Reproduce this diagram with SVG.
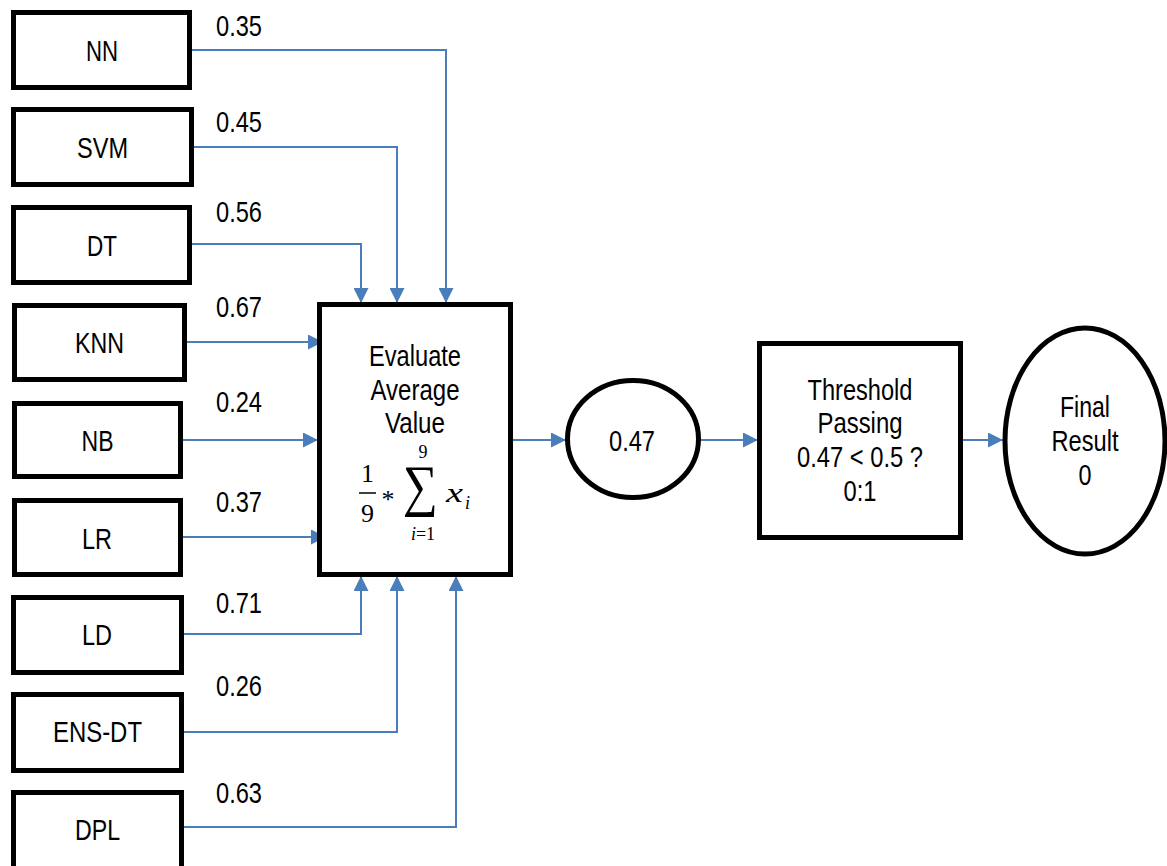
<svg xmlns="http://www.w3.org/2000/svg" width="1167" height="866" viewBox="0 0 1167 866">
<style>
.box{fill:#fff;stroke:#000;stroke-width:5}
.t{font-family:"Liberation Sans",Arial,sans-serif;font-size:29px;fill:#000}
.c{text-anchor:middle}
.m{font-family:"Liberation Serif","Times New Roman",serif;fill:#000}
.ln{fill:none;stroke:#4A7EBB;stroke-width:2}
</style>
<defs>
<marker id="ah" markerUnits="userSpaceOnUse" markerWidth="15" markerHeight="15" refX="15" refY="7.5" orient="auto">
<path d="M0,0 L15,7.5 L0,15 Z" fill="#4A7EBB"/>
</marker>
</defs>
<rect width="1167" height="866" fill="#fff"/>
<g id="connectors">
<path class="ln" d="M190,50 H446 V303" marker-end="url(#ah)"/>
<path class="ln" d="M192,147 H397 V303" marker-end="url(#ah)"/>
<path class="ln" d="M190,244 H361 V303" marker-end="url(#ah)"/>
<path class="ln" d="M187,342 H323" marker-end="url(#ah)"/>
<path class="ln" d="M183,440 H318" marker-end="url(#ah)"/>
<path class="ln" d="M183,537 H326" marker-end="url(#ah)"/>
<path class="ln" d="M184,634 H361 V576" marker-end="url(#ah)"/>
<path class="ln" d="M184,732 H397 V576" marker-end="url(#ah)"/>
<path class="ln" d="M184,827 H456 V576" marker-end="url(#ah)"/>
<path class="ln" d="M513,440 H566" marker-end="url(#ah)"/>
<path class="ln" d="M701,440 H758" marker-end="url(#ah)"/>
<path class="ln" d="M963,440 H1003" marker-end="url(#ah)"/>
<text class="t" x="216" y="36" textLength="46" lengthAdjust="spacingAndGlyphs">0.35</text>
<text class="t" x="216" y="132" textLength="46" lengthAdjust="spacingAndGlyphs">0.45</text>
<text class="t" x="216" y="222" textLength="46" lengthAdjust="spacingAndGlyphs">0.56</text>
<text class="t" x="216" y="317" textLength="46" lengthAdjust="spacingAndGlyphs">0.67</text>
<text class="t" x="216" y="412" textLength="46" lengthAdjust="spacingAndGlyphs">0.24</text>
<text class="t" x="216" y="512" textLength="46" lengthAdjust="spacingAndGlyphs">0.37</text>
<text class="t" x="216" y="613" textLength="46" lengthAdjust="spacingAndGlyphs">0.71</text>
<text class="t" x="216" y="696" textLength="46" lengthAdjust="spacingAndGlyphs">0.26</text>
<text class="t" x="216" y="803" textLength="46" lengthAdjust="spacingAndGlyphs">0.63</text>
</g>
<g id="nn"><rect class="box" x="13.5" y="12.5" width="176" height="75"/><text class="t c" x="102" y="61" textLength="32" lengthAdjust="spacingAndGlyphs">NN</text></g>
<g id="svm"><rect class="box" x="13.5" y="109.5" width="178" height="75"/><text class="t c" x="102.5" y="158" textLength="51" lengthAdjust="spacingAndGlyphs">SVM</text></g>
<g id="dt"><rect class="box" x="13.5" y="207.5" width="176" height="75"/><text class="t c" x="102" y="256" textLength="30" lengthAdjust="spacingAndGlyphs">DT</text></g>
<g id="knn"><rect class="box" x="14.5" y="305.5" width="170" height="74"/><text class="t c" x="99.5" y="353" textLength="49" lengthAdjust="spacingAndGlyphs">KNN</text></g>
<g id="nb"><rect class="box" x="14.5" y="403.5" width="166" height="73"/><text class="t c" x="97.5" y="451" textLength="32" lengthAdjust="spacingAndGlyphs">NB</text></g>
<g id="lr"><rect class="box" x="14.5" y="500.5" width="166" height="74"/><text class="t c" x="97" y="549" textLength="30" lengthAdjust="spacingAndGlyphs">LR</text></g>
<g id="ld"><rect class="box" x="13.5" y="597.5" width="168" height="75"/><text class="t c" x="97" y="645" textLength="30" lengthAdjust="spacingAndGlyphs">LD</text></g>
<g id="ensdt"><rect class="box" x="13.5" y="694.5" width="168" height="76"/><text class="t c" x="97.5" y="742" textLength="89" lengthAdjust="spacingAndGlyphs">ENS-DT</text></g>
<g id="dpl"><rect class="box" x="13.5" y="792.5" width="168" height="78"/><text class="t c" x="97.5" y="840" textLength="45" lengthAdjust="spacingAndGlyphs">DPL</text></g>
<g id="evaluate">
<rect class="box" x="319.5" y="304.5" width="191" height="270"/>
<text class="t c" x="415" y="366" textLength="92" lengthAdjust="spacingAndGlyphs">Evaluate</text>
<text class="t c" x="415" y="400" textLength="89" lengthAdjust="spacingAndGlyphs">Average</text>
<text class="t c" x="415" y="433" textLength="60" lengthAdjust="spacingAndGlyphs">Value</text>
<text class="m" x="367.5" y="482" font-size="26" text-anchor="middle">1</text>
<line x1="359" y1="493" x2="376" y2="493" stroke="#000" stroke-width="1.5"/>
<text class="m" x="367.5" y="522" font-size="26" text-anchor="middle">9</text>
<text class="m" x="388" y="508" font-size="26" text-anchor="middle">*</text>
<text class="m" x="420.5" y="505" font-size="57" text-anchor="middle" textLength="35" lengthAdjust="spacingAndGlyphs">∑</text>
<text class="m" x="423" y="458" font-size="18" text-anchor="middle">9</text>
<text class="m" x="423" y="540" font-size="18" text-anchor="middle"><tspan font-style="italic">i</tspan>=1</text>
<text class="m" x="446" y="502" font-size="28" font-style="italic" textLength="17" lengthAdjust="spacingAndGlyphs">x</text>
<text class="m" x="465" y="509" font-size="18" font-style="italic">i</text>
</g>
<g id="avg"><ellipse cx="633" cy="439" rx="65.5" ry="58.5" fill="#fff" stroke="#000" stroke-width="5"/><text class="t c" x="632" y="451" textLength="46" lengthAdjust="spacingAndGlyphs">0.47</text></g>
<g id="threshold">
<rect class="box" x="759.5" y="343.5" width="201" height="194"/>
<text class="t c" x="860" y="400" textLength="105" lengthAdjust="spacingAndGlyphs">Threshold</text>
<text class="t c" x="860" y="433" textLength="85" lengthAdjust="spacingAndGlyphs">Passing</text>
<text class="t c" x="860" y="467" textLength="126" lengthAdjust="spacingAndGlyphs">0.47 &lt; 0.5 ?</text>
<text class="t c" x="860" y="501" textLength="33" lengthAdjust="spacingAndGlyphs">0:1</text>
</g>
<g id="final">
<ellipse cx="1085" cy="441" rx="80" ry="113" fill="#fff" stroke="#000" stroke-width="5"/>
<text class="t c" x="1085" y="417" textLength="50" lengthAdjust="spacingAndGlyphs">Final</text>
<text class="t c" x="1085" y="451" textLength="67" lengthAdjust="spacingAndGlyphs">Result</text>
<text class="t c" x="1085" y="485" textLength="13" lengthAdjust="spacingAndGlyphs">0</text>
</g>
</svg>
